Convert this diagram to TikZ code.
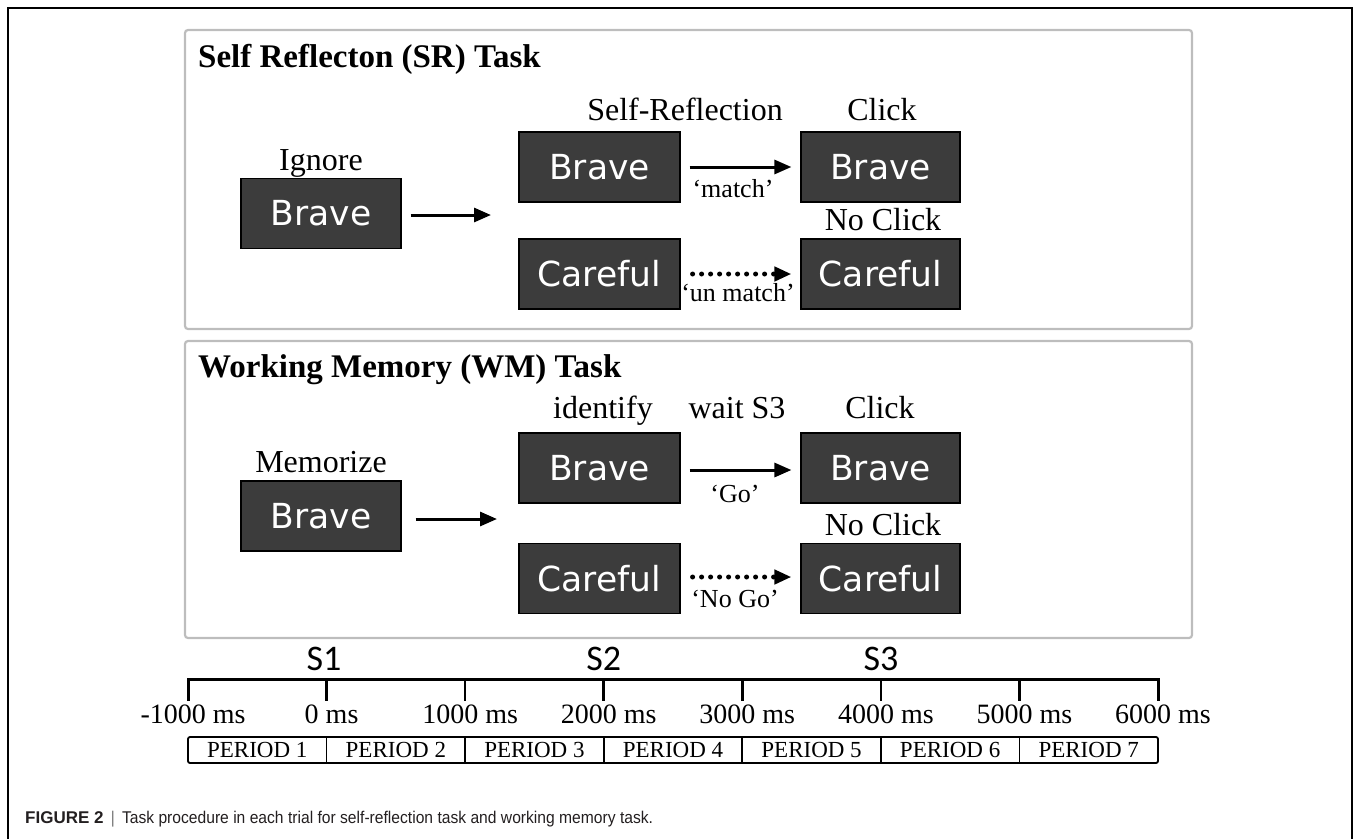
\documentclass[tikz,border=0pt]{standalone}
\usepackage{fontspec}
\setmainfont{Liberation Serif}
\newfontfamily\boxfont{DejaVu Sans}
\newfontfamily\capfont{Liberation Sans}
\newfontfamily\sfontS{Carlito}
\usetikzlibrary{arrows.meta}
\definecolor{boxgray}{HTML}{3C3C3C}
\definecolor{panelgray}{HTML}{BDBDBD}
\definecolor{captext}{HTML}{231F20}
\begin{document}
\begin{tikzpicture}[x=1pt,y=-1pt,
  stim/.style={draw=black, line width=1.2pt, fill=boxgray, text=white, minimum width=160pt, minimum height=70pt, inner sep=0pt, font=\boxfont\fontsize{34.5}{34.5}\selectfont},
  lbl/.style={anchor=base, inner sep=0pt, font=\fontsize{32}{36}\selectfont},
  small/.style={anchor=base, inner sep=0pt, font=\fontsize{26}{30}\selectfont},
  ttl/.style={anchor=base west, inner sep=0pt, font=\bfseries\fontsize{33}{38}\selectfont},
  panel/.style={draw=panelgray, line width=2.2pt, rounded corners=3pt},
  arr/.style={line width=3pt, -{Triangle[length=17pt,width=14pt]}},
  darr/.style={line width=5pt, line cap=round, dash pattern=on 0pt off 9pt, -{Triangle[length=17pt,width=14pt]}},
  slbl/.style={anchor=base, inner sep=0pt, font=\sfontS\fontsize{36}{40}\selectfont},
  mslbl/.style={anchor=base, inner sep=0pt, font=\fontsize{28}{32}\selectfont},
  perlbl/.style={anchor=base, inner sep=0pt, font=\fontsize{23}{26}\selectfont},
  ]
\useasboundingbox (0,0) rectangle (1354,839);
% outer frame
\draw[line width=1.5pt] (8,839) -- (8,8) -- (1352,8) -- (1352,839);
% panels
\draw[panel] (185,30) rectangle (1192,329);
\draw[panel] (185,341) rectangle (1192,638);

% ---- Self reflection panel
\node[ttl] (t1) at (198,67) {Self Reflecton (SR) Task};
\node[stim] (ig) at (321,213.5) {Brave};
\node[lbl] (igl) at (321,170) {Ignore};
\node[stim, minimum width=161pt] (sb) at (599.5,167) {Brave};
\node[lbl] (sbl) at (685,120) {Self-Reflection};
\node[stim, minimum width=159pt] (cb) at (880.5,167) {Brave};
\node[lbl] (cbl) at (882,120) {Click};
\node[stim, minimum width=161pt] (sc) at (599.5,274) {Careful};
\node[stim, minimum width=159pt] (cc) at (880.5,274) {Careful};
\node[lbl] (ccl) at (883,230) {No Click};
\coordinate (j1) at (491,215);
\draw[arr, shorten <=9pt] (ig.east |- j1) -- (j1);
\draw[arr, shorten <=9pt, shorten >=9pt] (sb) -- (cb);
\node[small] (m1) at (733,197) {‘match’};
\draw[darr, shorten <=12pt, shorten >=9pt] (sc) -- (cc);
\node[small] (m2) at (738,301) {‘un match’};

% ---- Working memory panel
\node[ttl] (t2) at (198,377) {Working Memory (WM) Task};
\node[stim] (mz) at (321,516) {Brave};
\node[lbl] (mzl) at (321,472) {Memorize};
\node[stim, minimum width=161pt] (wb) at (599.5,468) {Brave};
\node[lbl] (wbl) at (603,418) {identify};
\node[lbl] (wsl) at (737,418) {wait S3};
\node[stim, minimum width=159pt] (wcb) at (880.5,468) {Brave};
\node[lbl] (wcbl) at (880,418) {Click};
\node[stim, minimum width=161pt] (wc) at (599.5,578.5) {Careful};
\node[stim, minimum width=159pt] (wcc) at (880.5,578.5) {Careful};
\node[lbl] (wccl) at (883,535) {No Click};
\coordinate (j2) at (497,519);
\draw[arr, shorten <=14pt] (mz.east |- j2) -- (j2);
\draw[arr, shorten <=9pt, shorten >=9pt] (wb.east |- 0,470) -- (wcb.west |- 0,470);
\node[small] (g1) at (735,502) {‘Go’};
\draw[darr, shorten <=12pt, shorten >=9pt] (wc.east |- 0,577) -- (wcc.west |- 0,577);
\node[small] (g2) at (735,607) {‘No Go’};

% ---- timeline
\foreach \i in {0,...,7} \coordinate (tk\i) at ({188+138.57*\i},679);
\draw[line width=3pt] ([yshift=-22pt]tk0) -- (tk0) -- (tk7) -- ([yshift=-22pt]tk7);
\foreach \i in {1,...,6} \draw[line width=2.5pt] (tk\i) -- ([yshift=-22pt]tk\i);
\node[slbl] (s1) at (324,670) {S1};
\node[slbl] (s2) at (603.7,670) {S2};
\node[slbl] (s3) at (880.9,670) {S3};
\foreach \i/\t in {0/-1000,1/0,2/1000,3/2000,4/3000,5/4000,6/5000,7/6000}
  \node[mslbl] (ms\i) at ({188+138.57*\i+5},723) {\t\ ms};
\draw[line width=1.8pt, rounded corners=2pt] (tk0 |- 0,737) rectangle (tk7 |- 0,763);
\foreach \i in {1,...,6} \draw[line width=1.8pt] (tk\i |- 0,737) -- (tk\i |- 0,763);
\foreach \i in {1,...,7}
  \node[perlbl] (p\i) at ({188+138.57*(\i-0.5)},757) {PERIOD \i};

% caption
\node[anchor=base west, inner sep=0pt, text=captext, font=\capfont\fontsize{17}{20}\selectfont] (cap) at (25,823)
  {\textbf{FIGURE 2}\hspace{7pt}{\color{gray}|}\hspace{7pt}\scalebox{0.92}[1]{Task procedure in each trial for self-reflection task and working memory task.}};
\end{tikzpicture}
\end{document}
